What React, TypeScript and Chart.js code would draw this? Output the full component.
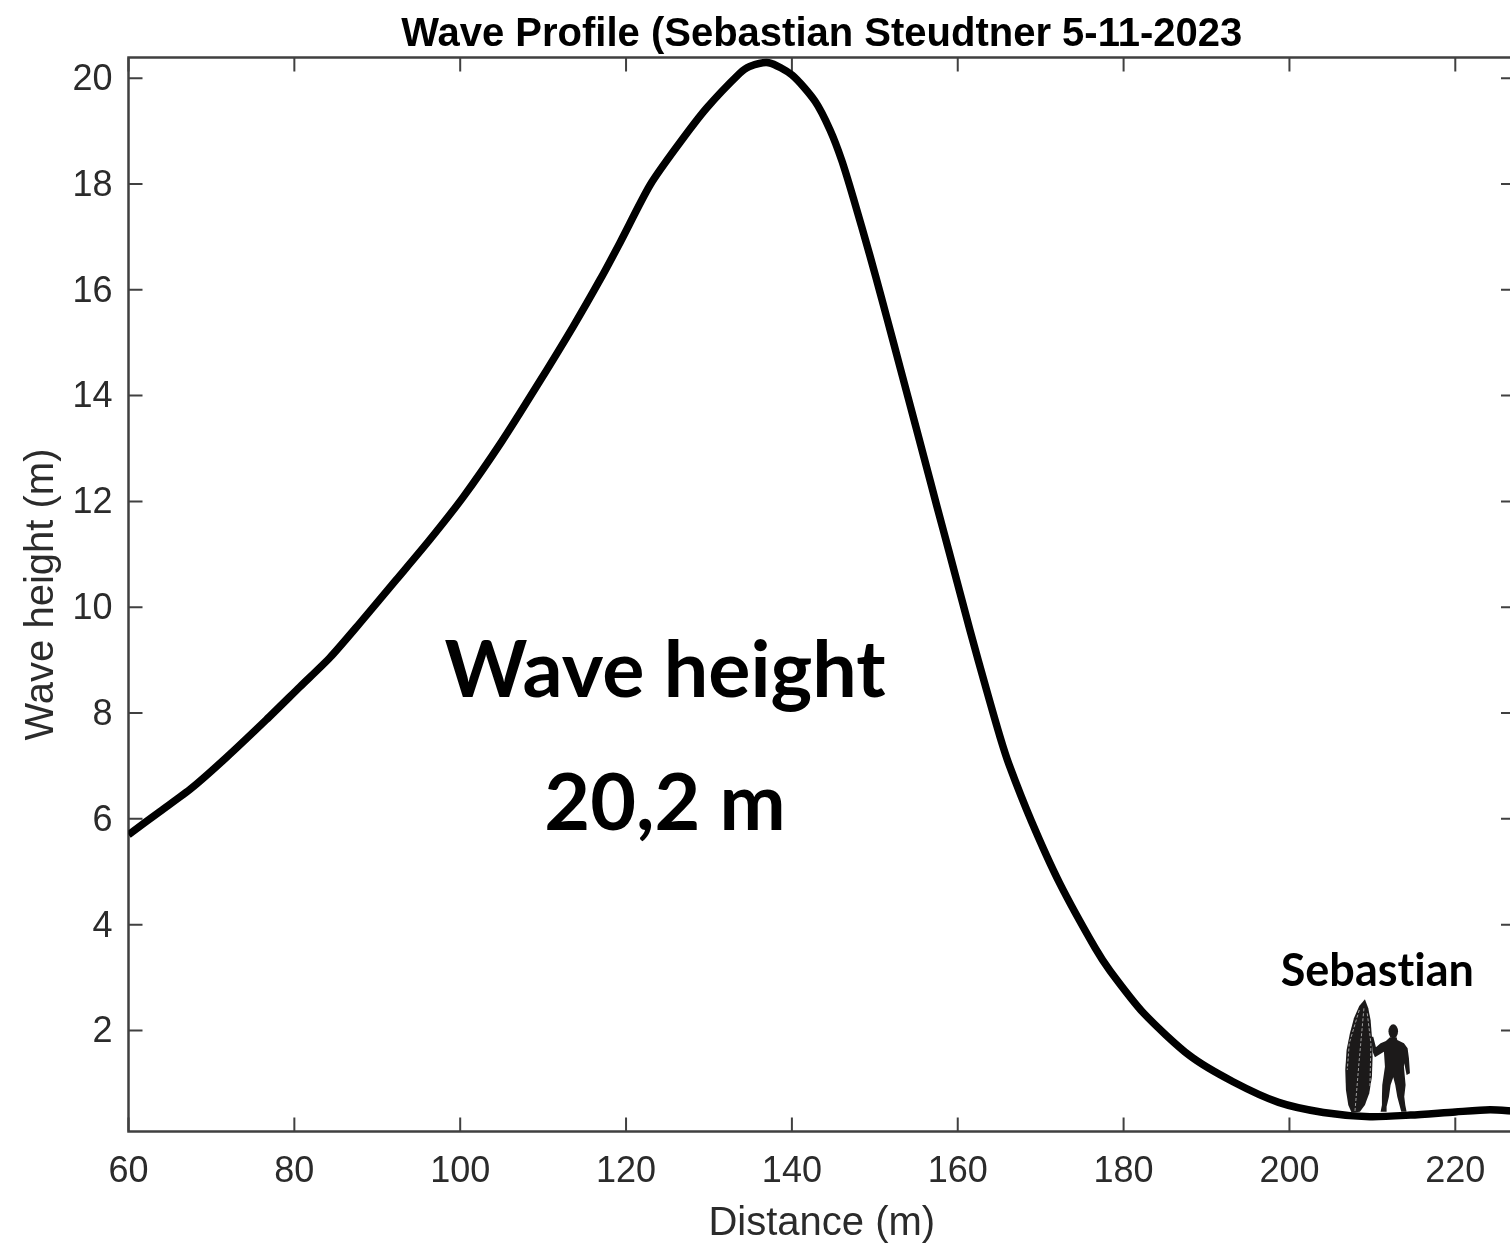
import React, { useEffect, useRef } from "react";
import { Chart, registerables } from "chart.js";

Chart.register(...registerables);

const distance = [60, 63.8, 67.6, 71.8, 76.6, 80.7, 84.3, 87.9, 92.3, 96.3, 100.4, 105, 109.2, 113.6, 116.9, 119.3, 122.9, 126.3, 129.7, 133.7, 134.9, 137.2, 140, 142.8, 144.6, 146, 147.4, 149.4, 150.8, 152.2, 154, 155.9, 157.5, 158.9, 161.5, 163.5, 165.1, 166.2, 168.9, 172.3, 176.6, 178.4, 182.4, 188, 193.2, 198.7, 204.1, 209.7, 214.6, 220, 224.2, 227.2];
const waveHeight = [5.7, 6.14, 6.58, 7.16, 7.87, 8.5, 9.05, 9.7, 10.52, 11.27, 12.09, 13.13, 14.17, 15.3, 16.2, 16.9, 17.98, 18.74, 19.43, 20.09, 20.22, 20.29, 20.06, 19.56, 19.02, 18.45, 17.74, 16.65, 15.85, 15.03, 13.97, 12.85, 11.9, 11.08, 9.55, 8.42, 7.55, 7.02, 5.95, 4.78, 3.55, 3.12, 2.33, 1.52, 1.03, 0.64, 0.45, 0.37, 0.4, 0.46, 0.5, 0.47];
const xTicks = [60, 80, 100, 120, 140, 160, 180, 200, 220];
const yTicks = [2, 4, 6, 8, 10, 12, 14, 16, 18, 20];
const titleText = "Wave Profile (Sebastian Steudtner 5-11-2023";
const xTitle = "Distance (m)";
const yTitle = "Wave height (m)";
const noteLabels = ["Wave height", "20,2 m", "Sebastian"];
const noteX = [124.7, 124.7, 210.6];
const noteY = [8.78, 6.27, 3.12];
const noteSize = [79, 79, 45];

// Surfer silhouette outlines, in 3x pixels relative to the spot where he stands
const board = [[315, 208], [325, 235], [332, 270], [336, 320], [338, 380], [336, 440], [328, 490], [315, 525], [300, 545], [275, 548], [265, 525], [258, 480], [256, 420], [260, 360], [270, 310], [282, 265], [298, 228]];
const boardLines = [
  [[312, 235], [297, 400], [285, 545]],
  [[298, 240], [268, 340], [262, 420]],
  [[322, 250], [333, 340], [330, 470]],
];
const body = [[390, 322], [410, 322], [412, 330], [432, 340], [443, 355], [447, 385], [450, 430], [440, 435], [433, 400], [432, 410], [437, 465], [433, 500], [436, 525], [440, 545], [424, 545], [420, 530], [412, 500], [406, 465], [400, 442], [392, 465], [387, 500], [380, 530], [380, 545], [362, 545], [366, 525], [366, 500], [367, 465], [375, 410], [372, 365], [345, 382], [338, 365], [334, 320], [340, 320], [348, 352], [362, 340], [378, 333]];
const surferAnchor = [208.5, 0.446];

const axisColor = "#404040";
const labelColor = "#2b2b2b";
const tickLen = 14;

const framePlugin = {
  id: "frame",
  beforeDraw(chart: any) {
    if (chart.$labelsShifted) return;
    chart.$labelsShifted = true;
    chart.scales.y.getLabelItems().forEach((it: any) => {
      it.options.translation[1] += 2;
    });
  },
  beforeDatasetsDraw(chart: any) {
    const { ctx, chartArea: a, scales } = chart;
    ctx.save();
    ctx.strokeStyle = axisColor;
    ctx.lineWidth = 2;
    ctx.beginPath();
    for (const v of xTicks) {
      const p = scales.x.getPixelForValue(v);
      ctx.moveTo(p, a.bottom);
      ctx.lineTo(p, a.bottom - tickLen);
      ctx.moveTo(p, a.top);
      ctx.lineTo(p, a.top + tickLen);
    }
    for (const v of yTicks) {
      const p = scales.y.getPixelForValue(v);
      ctx.moveTo(a.left, p);
      ctx.lineTo(a.left + tickLen, p);
      ctx.moveTo(a.right, p);
      ctx.lineTo(a.right - tickLen, p);
    }
    ctx.stroke();
    ctx.lineWidth = 2.5;
    ctx.beginPath();
    ctx.rect(a.left, a.top, a.right - a.left, a.bottom - a.top);
    ctx.stroke();
    ctx.restore();
  },
  afterDatasetsDraw(chart: any) {
    const { ctx, scales } = chart;
    ctx.save();
    ctx.fillStyle = "#000";
    ctx.textAlign = "center";
    ctx.textBaseline = "middle";
    ctx.letterSpacing = "0.01px";
    noteLabels.forEach((t, i) => {
      ctx.font = `bold ${noteSize[i]}px Lato`;
      ctx.fillText(t, scales.x.getPixelForValue(noteX[i]), scales.y.getPixelForValue(noteY[i]));
    });
    const ox = scales.x.getPixelForValue(surferAnchor[0]);
    const oy = scales.y.getPixelForValue(surferAnchor[1]);
    const tx = (v: number) => ox + (v - 300) / 3;
    const ty = (v: number) => oy + (v - 548) / 3;
    const poly = (pts: number[][]) => {
      ctx.beginPath();
      pts.forEach(([x, y], i) => (i ? ctx.lineTo(tx(x), ty(y)) : ctx.moveTo(tx(x), ty(y))));
      ctx.closePath();
      ctx.fill();
    };
    ctx.fillStyle = "#1c1a1a";
    poly(board);
    poly(body);
    ctx.beginPath();
    ctx.ellipse(tx(400), ty(304), 4.8, 7, 0, 0, Math.PI * 2);
    ctx.fill();
    ctx.strokeStyle = "#d8d8d8";
    ctx.lineWidth = 0.7;
    ctx.setLineDash([3, 2]);
    boardLines.forEach((line) => {
      ctx.beginPath();
      line.forEach(([x, y], i) => (i ? ctx.lineTo(tx(x), ty(y)) : ctx.moveTo(tx(x), ty(y))));
      ctx.stroke();
    });
    ctx.restore();
  },
};

export default function App() {
  const ref = useRef<HTMLCanvasElement>(null);
  useEffect(() => {
    const chart = new Chart(ref.current!, {
      type: "line",
      data: {
        datasets: [
          {
            data: distance.map((x, i) => ({ x, y: waveHeight[i] })),
            borderColor: "#000",
            borderWidth: 7.5,
            pointRadius: 0,
            tension: 0.25,
            borderJoinStyle: "round",
          },
        ],
      },
      options: {
        animation: false,
        responsive: false,
        layout: { padding: 0 },
        plugins: {
          legend: { display: false },
          tooltip: { enabled: false },
          title: {
            display: true,
            fullSize: false,
            text: titleText,
            color: "#000",
            font: { family: "Liberation Sans", size: 40, weight: "bold", lineHeight: 1 },
            padding: { top: 15, bottom: 2.5 },
          },
        },
        scales: {
          x: {
            type: "linear",
            min: 60,
            max: 227.2,
            afterBuildTicks: (s: any) => {
              s.ticks = xTicks.map((value) => ({ value }));
            },
            afterFit: (s: any) => {
              s.height = 114.5;
            },
            grid: { display: false },
            border: { display: false },
            ticks: {
              autoSkip: false,
              maxRotation: 0,
              padding: 11,
              color: labelColor,
              font: { family: "Liberation Sans", size: 36 },
            },
            title: {
              display: true,
              text: xTitle,
              color: labelColor,
              font: { family: "Liberation Sans", size: 40, lineHeight: 1 },
              padding: { top: 0, bottom: 2 },
            },
          },
          y: {
            type: "linear",
            min: 0.09,
            max: 20.39,
            afterBuildTicks: (s: any) => {
              s.ticks = yTicks.map((value) => ({ value }));
            },
            afterFit: (s: any) => {
              s.width = 128.5;
            },
            grid: { display: false },
            border: { display: false },
            ticks: {
              autoSkip: false,
              padding: 8,
              color: labelColor,
              font: { family: "Liberation Sans", size: 36 },
            },
            title: {
              display: true,
              text: yTitle,
              color: labelColor,
              font: { family: "Liberation Sans", size: 40, lineHeight: 1 },
              padding: { top: 22, bottom: 0 },
            },
          },
        },
      },
      plugins: [framePlugin],
    } as any);
    return () => chart.destroy();
  }, []);
  return (
    <div style={{ position: "absolute", left: 0, top: 0, width: 1510, height: 1246, overflow: "hidden", background: "#fff" }}>
      <canvas ref={ref} width={1515} height={1246} style={{ display: "block" }} />
    </div>
  );
}
